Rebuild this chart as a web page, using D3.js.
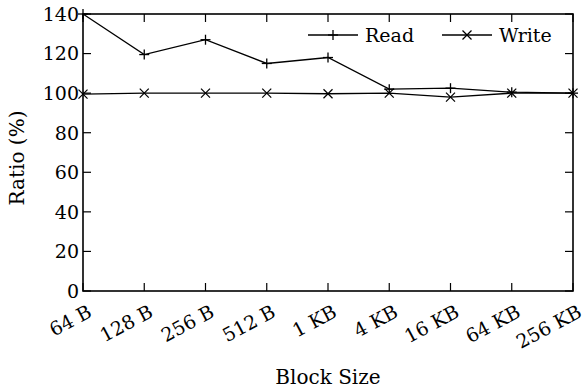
<!DOCTYPE html>
<html>
<head>
<meta charset="utf-8">
<script src="https://cdn.jsdelivr.net/npm/d3@7"></script>
<style>
  body { margin: 0; background: #fff; }
  text { font-family: "DejaVu Serif", serif; fill: #000; }
</style>
</head>
<body>
<svg id="chart" width="584" height="389"></svg>
<script>
// ----------------------------------------------------------------------------
// Data
// ----------------------------------------------------------------------------

var blockSizes = ["64 B", "128 B", "256 B", "512 B", "1 KB", "4 KB", "16 KB", "64 KB", "256 KB"];
var readRatio = [140, 119.5, 127, 115, 118, 102, 102.5, 100.5, 100];
var writeRatio = [99.5, 100, 100, 100, 99.7, 100, 98, 100, 100];
var yTicks = [0, 20, 40, 60, 80, 100, 120, 140];

// ----------------------------------------------------------------------------
// Chart
// ----------------------------------------------------------------------------

var svg = d3.select("#chart");
// note: "top" is taken by window.top, so use plot* names
var plotLeft = 83, plotRight = 573, plotTop = 14, plotBottom = 291;

var x = d3.scalePoint().domain(blockSizes).range([plotLeft, plotRight]);
var y = d3.scaleLinear().domain([0, 140]).range([plotBottom, plotTop]);

var tickLen = 8;

// ticks, drawn inward on all four sides
var ticks = svg.append("g").attr("stroke", "#000").attr("stroke-width", 1.2);
blockSizes.forEach(function(d) {
    ticks.append("line").attr("x1", x(d)).attr("x2", x(d)).attr("y1", plotBottom).attr("y2", plotBottom - tickLen);
    ticks.append("line").attr("x1", x(d)).attr("x2", x(d)).attr("y1", plotTop).attr("y2", plotTop + tickLen);
});
yTicks.forEach(function(v) {
    ticks.append("line").attr("x1", plotLeft).attr("x2", plotLeft + tickLen).attr("y1", y(v)).attr("y2", y(v));
    ticks.append("line").attr("x1", plotRight).attr("x2", plotRight - tickLen).attr("y1", y(v)).attr("y2", y(v));
});

// tick labels
svg.append("g").selectAll("text").data(yTicks).enter().append("text")
    .attr("x", plotLeft - 4)
    .attr("y", function(d) { return y(d); })
    .attr("dy", "0.36em")
    .attr("text-anchor", "end")
    .attr("font-size", 19)
    .text(function(d) { return d; });

svg.append("g").selectAll("text").data(blockSizes).enter().append("text")
    .attr("transform", function(d) { return "translate(" + (x(d) + 10) + "," + (plotBottom + 25) + ") rotate(-28)"; })
    .attr("text-anchor", "end")
    .attr("font-size", 19)
    .text(function(d) { return d; });

// axis titles
svg.append("text")
    .attr("x", (plotLeft + plotRight) / 2)
    .attr("y", 384)
    .attr("text-anchor", "middle")
    .attr("font-size", 20)
    .text("Block Size");

svg.append("text")
    .attr("transform", "translate(24," + 158 + ") rotate(-90)")
    .attr("text-anchor", "middle")
    .attr("font-size", 20)
    .text("Ratio (%)");

// lines
var line = d3.line()
    .x(function(d, i) { return x(blockSizes[i]); })
    .y(function(d) { return y(d); });

var plot = svg.append("g");
plot.append("path").datum(writeRatio)
    .attr("d", line).attr("fill", "none").attr("stroke", "#000").attr("stroke-width", 1.3);
plot.append("path").datum(readRatio)
    .attr("d", line).attr("fill", "none").attr("stroke", "#000").attr("stroke-width", 1.3);

var m = 5;
function plusMark(g, cx, cy) {
    g.append("line").attr("x1", cx - m).attr("x2", cx + m).attr("y1", cy).attr("y2", cy);
    g.append("line").attr("x1", cx).attr("x2", cx).attr("y1", cy - m).attr("y2", cy + m);
}
function crossMark(g, cx, cy) {
    var k = 4.5;
    g.append("line").attr("x1", cx - k).attr("x2", cx + k).attr("y1", cy - k).attr("y2", cy + k);
    g.append("line").attr("x1", cx - k).attr("x2", cx + k).attr("y1", cy + k).attr("y2", cy - k);
}

var marks = svg.append("g").attr("stroke", "#000").attr("stroke-width", 1.3);
readRatio.forEach(function(v, i) { plusMark(marks, x(blockSizes[i]), y(v)); });
writeRatio.forEach(function(v, i) { crossMark(marks, x(blockSizes[i]), y(v)); });

// frame
svg.append("rect")
    .attr("x", plotLeft).attr("y", plotTop)
    .attr("width", plotRight - plotLeft).attr("height", plotBottom - plotTop)
    .attr("fill", "none").attr("stroke", "#000").attr("stroke-width", 1.6);

// legend
var legend = svg.append("g");
var legendY = 35;
var entries = [
    {name: "Read", x0: 308, mark: plusMark},
    {name: "Write", x0: 442, mark: crossMark}
];
entries.forEach(function(e) {
    legend.append("line").attr("x1", e.x0).attr("x2", e.x0 + 50)
        .attr("y1", legendY).attr("y2", legendY)
        .attr("stroke", "#000").attr("stroke-width", 1.3);
    var g = legend.append("g").attr("stroke", "#000").attr("stroke-width", 1.3);
    e.mark(g, e.x0 + 25, legendY);
    legend.append("text")
        .attr("x", e.x0 + 57)
        .attr("y", legendY)
        .attr("dy", "0.36em")
        .attr("font-size", 19)
        .text(e.name);
});
</script>
</body>
</html>
